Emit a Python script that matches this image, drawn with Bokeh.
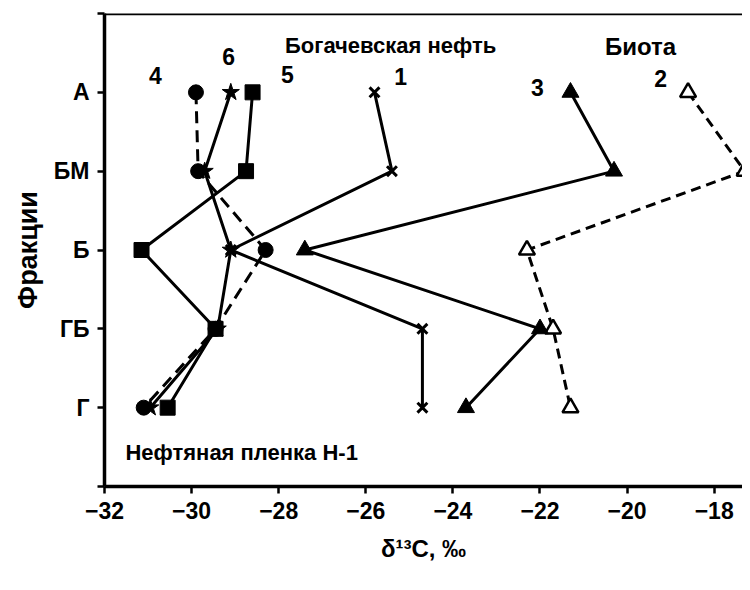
from bokeh.plotting import figure
from bokeh.models import Range1d, FixedTicker, Span, ColumnDataSource
from bokeh.core.properties import value
from bokeh.embed import file_html
from bokeh.resources import INLINE

# Fractions (y categories, top to bottom)
fractions = ["А", "БМ", "Б", "ГБ", "Г"]
frac_pos = [1, 2, 3, 4, 5]
x_ticks = [-32, -30, -28, -26, -24, -22, -20, -18]

# δ13C values (‰) per series
s1 = [-25.8, -25.4, -29.1, -24.7, -24.7]      # 1 Богачевская нефть (x)
s2 = [-18.6, -17.3, -22.3, -21.7, -21.3]      # 2 Биота (open triangle, dashed)
s3 = [-21.3, -20.3, -27.4, -22.0, -23.7]      # 3 (filled triangle)
s4 = [-29.9, -29.85, -28.3, -29.45, -31.1]    # 4 (circle, dashed)
s5 = [-28.6, -28.75, -31.15, -29.45, -30.55]  # 5 (square)
s6 = [-29.1, -29.7, -29.1, -29.4, -30.95]     # 6 (star)

FONT = value("Liberation Sans")

p = figure(width=742, height=580, output_backend="svg", toolbar_location=None,
           x_range=Range1d(-32, -17.35), y_range=Range1d(6, 0),
           min_border_left=104, min_border_top=13, min_border_right=0,
           min_border_bottom=94)
p.outline_line_color = None
p.grid.visible = False
p.background_fill_color = "white"
p.border_fill_color = "white"

# axes
xa = p.xaxis[0]
xa.ticker = FixedTicker(ticks=x_ticks)
xa.minor_tick_line_color = None
xa.axis_line_width = 3.5
xa.major_tick_line_width = 2.5
xa.major_tick_out = 7
xa.major_tick_in = 0
xa.major_label_text_font = "Liberation Sans"
xa.major_label_text_font_style = "bold"
xa.major_label_text_font_size = "23px"
xa.major_label_text_color = "black"
xa.major_label_standoff = 8
xa.axis_label = "δ¹³C, ‰"
xa.axis_label_text_font = "Liberation Sans"
xa.axis_label_text_font_style = "bold"
xa.axis_label_text_font_size = "24px"
xa.axis_label_text_color = "black"
xa.axis_label_standoff = 13

ya = p.yaxis[0]
ya.ticker = FixedTicker(ticks=[0, 1, 2, 3, 4, 5, 6])
ya.major_label_overrides = {0: "", 6: "", **{k: v for k, v in zip(frac_pos, fractions)}}
ya.minor_tick_line_color = None
ya.axis_line_width = 3.5
ya.major_tick_line_width = 2.5
ya.major_tick_out = 7
ya.major_tick_in = 0
ya.major_label_text_font = "Liberation Sans"
ya.major_label_text_font_style = "bold"
ya.major_label_text_font_size = "23px"
ya.major_label_text_color = "black"
ya.major_label_standoff = 8
ya.axis_label = "Фракции"
ya.axis_label_text_font = "Liberation Sans"
ya.axis_label_text_font_style = "bold"
ya.axis_label_text_font_size = "27px"
ya.axis_label_text_color = "black"
ya.axis_label_standoff = 8

p.add_layout(Span(location=0, dimension="width", line_color="black", line_width=3.5))

# lines
p.line(s1, frac_pos, line_color="black", line_width=3)
p.line(s2, frac_pos, line_color="black", line_width=3, line_dash="10 6")
p.line(s3, frac_pos, line_color="black", line_width=3)
p.line(s4, frac_pos, line_color="black", line_width=3, line_dash="12 7")
p.line(s5, frac_pos, line_color="black", line_width=3)
p.line(s6, frac_pos, line_color="black", line_width=3)

# markers
p.scatter(s1, frac_pos, marker="x", size=14, line_color="black", line_width=3)
p.scatter(s2, frac_pos, marker="triangle", size=16, line_color="black", line_width=2.5,
          fill_color="white")
p.scatter(s3, frac_pos, marker="triangle", size=17, line_color="black", fill_color="black")
p.scatter(s4, frac_pos, marker="circle", size=15, line_color="black", fill_color="black")
p.scatter(s5, frac_pos, marker="square", size=15, line_color="black", fill_color="black")
p.scatter(s6, frac_pos, marker="star", size=18, line_color="black", fill_color="black")

# series number labels
num_src = ColumnDataSource(dict(x=[-30.83, -29.15, -27.8, -25.2, -22.06, -19.23],
                                y=[0.79, 0.55, 0.78, 0.80, 0.94, 0.83],
                                t=["4", "6", "5", "1", "3", "2"]))
p.text(x="x", y="y", text="t", source=num_src, text_font=FONT, text_font_style="bold",
       text_font_size="23px", text_align="center", text_baseline="middle", text_color="black")

p.text(x=[-25.43], y=[0.41], text=["Богачевская нефть"], text_font=FONT,
       text_font_style="bold", text_font_size="22px", text_align="center",
       text_baseline="middle", text_color="black")
p.text(x=[-19.69], y=[0.42], text=["Биота"], text_font=FONT,
       text_font_style="bold", text_font_size="24px", text_align="center",
       text_baseline="middle", text_color="black")
p.text(x=[-31.52], y=[5.57], text=["Нефтяная пленка Н-1"], text_font=FONT,
       text_font_style="bold", text_font_size="22px", text_align="left",
       text_baseline="middle", text_color="black")

open("out.html", "w").write(file_html(p, INLINE))
